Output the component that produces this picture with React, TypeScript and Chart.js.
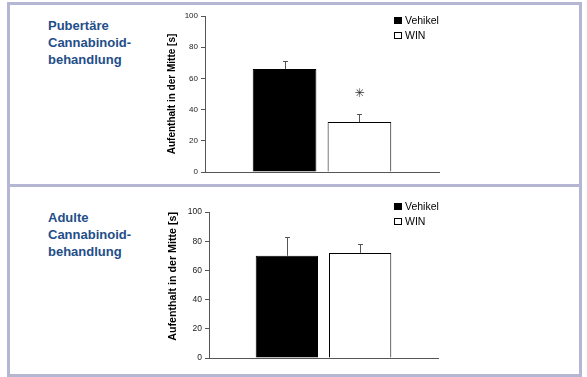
import React, { useEffect, useRef } from 'react';
import { Chart, registerables } from 'chart.js';

Chart.register(...registerables);

// ---- data ----
const seriesLabels = ['Vehikel', 'WIN'];
const seriesFill = ['#000000', '#ffffff'];
const yAxisTitle = 'Aufenthalt in der Mitte [s]';
const yMin = 0;
const yMax = 100;
const yStep = 20;

const pubertalHeading = ['Pubertäre', 'Cannabinoid-', 'behandlung'];
const pubertalMeans = [66, 32];
const pubertalErrors = [5, 5.5];
const pubertalMarks = ['', '✳'];

const adultHeading = ['Adulte', 'Cannabinoid-', 'behandlung'];
const adultMeans = [70, 72];
const adultErrors = [13, 6];
const adultMarks = ['', ''];

const FONT = '"Liberation Sans", Arial, Helvetica, sans-serif';

const decorPlugin = {
  id: 'decor',
  afterDatasetsDraw(chart: any, _args: any, opts: any) {
    const ctx = chart.ctx;
    const y = chart.scales.y;
    chart.data.datasets.forEach((ds: any, i: number) => {
      const meta = chart.getDatasetMeta(i);
      const bar: any = meta.data[0];
      if (!bar) return;
      const v = ds.data[0];
      const err = opts.errors[i];
      const yTop = Math.round(y.getPixelForValue(v + err)) + 0.5;
      const x = Math.round(bar.x) + 0.5;
      ctx.save();
      ctx.strokeStyle = '#555';
      ctx.lineWidth = 1;
      ctx.beginPath();
      ctx.moveTo(x, bar.y);
      ctx.lineTo(x, yTop);
      ctx.moveTo(x - 2.5, yTop);
      ctx.lineTo(x + 2.5, yTop);
      ctx.stroke();
      const mark = opts.marks[i];
      if (mark) {
        ctx.fillStyle = '#333';
        ctx.font = '12px "DejaVu Sans", sans-serif';
        ctx.textAlign = 'center';
        ctx.textBaseline = 'middle';
        ctx.fillText(mark, bar.x, yTop - 21);
      }
      ctx.restore();
    });
  },
  afterDraw(chart: any, _args: any, opts: any) {
    const ctx = chart.ctx;
    ctx.save();
    chart.data.datasets.forEach((ds: any, i: number) => {
      const top = opts.legendY + i * 15;
      const x = opts.legendX;
      ctx.fillStyle = ds.backgroundColor;
      ctx.fillRect(x, top, 8, 7);
      ctx.strokeStyle = '#000';
      ctx.lineWidth = 1;
      ctx.strokeRect(x + 0.5, top + 0.5, 7, 6);
      ctx.fillStyle = '#000';
      ctx.font = `${opts.legendSize}px ${FONT}`;
      ctx.textAlign = 'left';
      ctx.textBaseline = 'middle';
      ctx.fillText(ds.label, x + 11, top + 4);
    });
    ctx.restore();
  },
};

type PanelCfg = {
  top: number;
  height: number;
  padding: { left: number; top: number; right: number; bottom: number };
  yWidth: number;
  tickSize: number;
  titleSize: number;
  titleAlign: 'start' | 'center' | 'end';
  legendX: number;
  legendY: number;
  legendSize: number;
};

function BarPanel({ means, errors, marks, cfg }: { means: number[]; errors: number[]; marks: string[]; cfg: PanelCfg }) {
  const ref = useRef<HTMLCanvasElement>(null);
  useEffect(() => {
    if (!ref.current) return;
    const chart = new Chart(ref.current, {
      type: 'bar',
      data: {
        labels: [''],
        datasets: seriesLabels.map((label, i) => ({
          label,
          data: [means[i]],
          backgroundColor: seriesFill[i],
          borderColor: '#000',
          borderWidth: 1,
          categoryPercentage: 0.64,
          barPercentage: 0.85,
        })),
      },
      options: {
        animation: false,
        responsive: false,
        devicePixelRatio: 1,
        layout: { padding: cfg.padding },
        plugins: {
          legend: { display: false },
          tooltip: { enabled: false },
          decor: {
            errors,
            marks,
            legendX: cfg.legendX,
            legendY: cfg.legendY,
            legendSize: cfg.legendSize,
          },
        } as any,
        scales: {
          x: {
            type: 'category',
            grid: { display: false, drawTicks: false },
            ticks: { display: false },
            border: { display: true, color: '#555', width: 1 },
            afterFit: (s: any) => {
              s.height = 0;
            },
          },
          y: {
            min: yMin,
            max: yMax,
            ticks: {
              stepSize: yStep,
              padding: 3,
              color: '#222',
              font: { family: FONT, size: cfg.tickSize },
            },
            grid: { drawOnChartArea: false, tickLength: 4, color: '#555' },
            border: { display: true, color: '#555', width: 1 },
            title: {
              display: true,
              text: yAxisTitle,
              color: '#000',
              padding: 0,
              align: cfg.titleAlign,
              font: { family: FONT, size: cfg.titleSize, weight: 'bold' },
            },
            afterFit: (s: any) => {
              s.width = cfg.yWidth;
            },
          },
        },
      },
      plugins: [decorPlugin as any],
    });
    return () => chart.destroy();
  }, []);
  return (
    <canvas
      ref={ref}
      width={587}
      height={cfg.height}
      style={{ position: 'absolute', left: 0, top: cfg.top, width: 587, height: cfg.height, display: 'block' }}
    />
  );
}

const frameColor = '#b4b6d3';
const headingStyle: React.CSSProperties = {
  position: 'absolute',
  left: 48,
  fontFamily: FONT,
  fontWeight: 'bold',
  fontSize: 13,
  lineHeight: '17px',
  color: '#1f4e89',
  whiteSpace: 'nowrap',
};

export default function App() {
  const topCfg: PanelCfg = {
    top: 0,
    height: 185,
    padding: { left: 166, top: 16, right: 148, bottom: 13 },
    yWidth: 39,
    tickSize: 8,
    titleSize: 10,
    titleAlign: 'center',
    legendX: 394,
    legendY: 17,
    legendSize: 10.5,
  };
  const bottomCfg: PanelCfg = {
    top: 185,
    height: 192,
    padding: { left: 167, top: 27, right: 149, bottom: 19 },
    yWidth: 42,
    tickSize: 8.5,
    titleSize: 10.7,
    titleAlign: 'end',
    legendX: 394,
    legendY: 18,
    legendSize: 10.5,
  };
  return (
    <div style={{ position: 'fixed', left: 0, top: 0, width: 587, height: 377, background: '#fff', overflow: 'hidden' }}>
      <div style={{ position: 'absolute', left: 7, top: 2, width: 575, height: 185, boxSizing: 'border-box', border: `3px solid ${frameColor}` }} />
      <div style={{ position: 'absolute', left: 7, top: 184, width: 575, height: 193, boxSizing: 'border-box', border: `3px solid ${frameColor}` }} />
      <div style={{ ...headingStyle, top: 17 }}>
        {pubertalHeading.map((l, i) => (
          <div key={i}>{l}</div>
        ))}
      </div>
      <div style={{ ...headingStyle, top: 209 }}>
        {adultHeading.map((l, i) => (
          <div key={i}>{l}</div>
        ))}
      </div>
      <BarPanel means={pubertalMeans} errors={pubertalErrors} marks={pubertalMarks} cfg={topCfg} />
      <BarPanel means={adultMeans} errors={adultErrors} marks={adultMarks} cfg={bottomCfg} />
    </div>
  );
}
